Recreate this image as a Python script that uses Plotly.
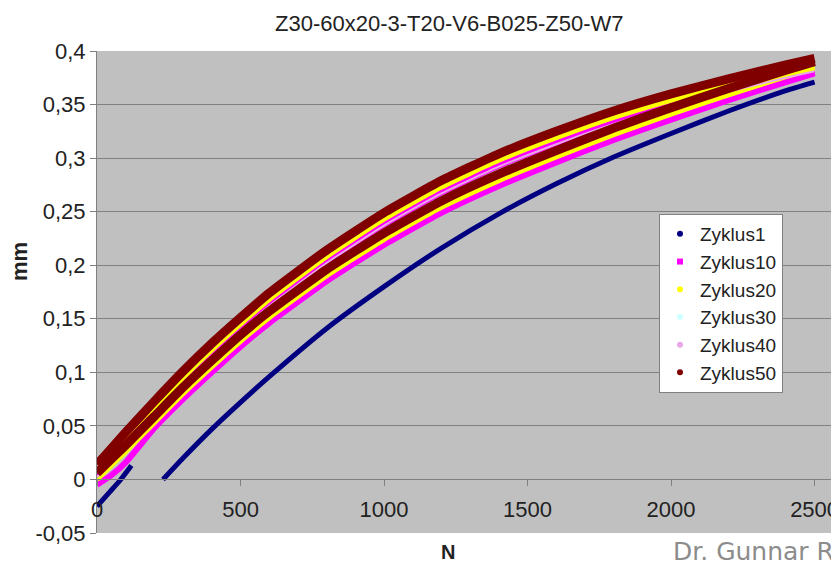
import plotly.graph_objects as go

# ---------------- data ----------------
n_grid = [0, 50, 100, 200, 300, 400, 500, 600, 800, 1000, 1200, 1400, 1600, 1800, 2000, 2200, 2400, 2500]

# Zyklus1: short start piece and main piece
z1_start_n = [0, 40, 80, 120]
z1_start_y = [-0.025, -0.013, -0.001, 0.013]
z1_main_n = [230, 300, 400, 500, 600, 800, 1000, 1200, 1400, 1600, 1800, 2000, 2200, 2400, 2500]
z1_main_y = [0.000, 0.020, 0.047, 0.072, 0.096, 0.141, 0.180, 0.216, 0.248, 0.276, 0.301, 0.323, 0.344, 0.363, 0.371]

# upper group of curves
z50_a = [0.014, 0.029, 0.044, 0.073, 0.101, 0.127, 0.151, 0.174, 0.214, 0.249, 0.279, 0.304, 0.325, 0.344, 0.360, 0.374, 0.387, 0.393]
z20_a = [0.008, 0.023, 0.038, 0.067, 0.095, 0.121, 0.145, 0.168, 0.208, 0.243, 0.273, 0.298, 0.319, 0.338, 0.354, 0.368, 0.381, 0.387]
z10_a = [0.003, 0.018, 0.033, 0.062, 0.090, 0.116, 0.140, 0.163, 0.203, 0.238, 0.268, 0.293, 0.314, 0.333, 0.349, 0.363, 0.376, 0.382]
# lower group of curves
z50_b = [0.006, 0.019, 0.032, 0.059, 0.086, 0.111, 0.135, 0.157, 0.196, 0.230, 0.260, 0.285, 0.307, 0.328, 0.347, 0.365, 0.382, 0.390]
z20_b = [0.000, 0.013, 0.026, 0.053, 0.080, 0.105, 0.129, 0.151, 0.190, 0.224, 0.254, 0.279, 0.301, 0.322, 0.341, 0.359, 0.376, 0.384]
z10_b = [-0.005, 0.004, 0.016, 0.048, 0.075, 0.100, 0.124, 0.146, 0.185, 0.219, 0.249, 0.274, 0.296, 0.317, 0.336, 0.354, 0.371, 0.379]
# mostly hidden curves
z30 = [0.007, 0.020, 0.033, 0.060, 0.087, 0.112, 0.136, 0.158, 0.197, 0.231, 0.261, 0.286, 0.308, 0.329, 0.348, 0.366, 0.383, 0.391]
z40 = [0.002, 0.017, 0.032, 0.061, 0.089, 0.115, 0.139, 0.162, 0.202, 0.237, 0.267, 0.292, 0.313, 0.332, 0.348, 0.362, 0.375, 0.381]

series_names = ["Zyklus1", "Zyklus10", "Zyklus20", "Zyklus30", "Zyklus40", "Zyklus50"]
series_colors = ["#000080", "#ff00ff", "#ffff00", "#ccffff", "#e8a8e8", "#800000"]
legend_symbols = ["circle", "square", "circle", "circle", "circle", "circle"]

y_tick_vals = [-0.05, 0, 0.05, 0.1, 0.15, 0.2, 0.25, 0.3, 0.35, 0.4]
y_tick_text = ["-0,05", "0", "0,05", "0,1", "0,15", "0,2", "0,25", "0,3", "0,35", "0,4"]
x_tick_vals = [0, 500, 1000, 1500, 2000, 2500]

title_text = "Z30-60x20-3-T20-V6-B025-Z50-W7"
x_title = "N"
y_title = "mm"
watermark = "Dr. Gunnar R"

# ---------------- figure ----------------
# the page body has an 8px margin, so the figure is 8px smaller than the window
W, H = 831, 562
ml, mr, mt, mb = 89, 0, 43, 37
PW, PH = W - ml - mr, H - mt - mb
OFF = 8


def px_x(x):  # window px -> paper x
    return (x - OFF - ml) / PW


def px_y(y):  # window px -> paper y
    return (H - mb - (y - OFF)) / PH


fig = go.Figure()


def two_part(n1, y1, n2, y2):
    return list(n1) + [None] + list(n2), list(y1) + [None] + list(y2)


curves = [
    two_part(z1_start_n, z1_start_y, z1_main_n, z1_main_y),
    two_part(n_grid, z10_a, n_grid, z10_b),
    two_part(n_grid, z20_a, n_grid, z20_b),
    (n_grid, z30),
    (n_grid, z40),
    two_part(n_grid, z50_a, n_grid, z50_b),
]
widths = [5, 6, 5, 2, 2, 9]

for (xs, ys), name, col, w in zip(curves, series_names, series_colors, widths):
    fig.add_trace(go.Scatter(
        x=xs, y=ys, mode="lines", name=name, showlegend=False,
        line=dict(color=col, width=w, shape="spline", smoothing=0.5),
        connectgaps=False, hoverinfo="skip",
    ))

for name, col, sym in zip(series_names, series_colors, legend_symbols):
    fig.add_trace(go.Scatter(
        x=[None], y=[None], mode="markers", name=name,
        marker=dict(color=col, size=6, symbol=sym),
    ))

FONT = "Liberation Sans, Arial, sans-serif"
tick_font = dict(family=FONT, size=22, color="#222222")

fig.update_layout(
    width=W, height=H,
    margin=dict(l=ml, r=mr, t=mt, b=mb, pad=0),
    paper_bgcolor="white",
    plot_bgcolor="#c0c0c0",
    showlegend=True,
    legend=dict(
        x=px_x(659), y=px_y(214),
        xanchor="left", yanchor="top",
        bgcolor="white", bordercolor="#808080", borderwidth=1,
        font=dict(family=FONT, size=19, color="#222222"),
        itemwidth=30, tracegroupgap=0,
    ),
    xaxis=dict(
        range=[0, 2585], tickvals=x_tick_vals,
        showgrid=False, zeroline=False,
        showline=True, linecolor="#808080", linewidth=1,
        ticks="outside", ticklen=6, tickcolor="#808080",
        ticklabelstandoff=4, ticklabeloverflow="allow",
        anchor="free", position=(0 - (-0.05)) / 0.45,
        tickfont=tick_font,
    ),
    yaxis=dict(
        range=[-0.05, 0.4], tickvals=y_tick_vals, ticktext=y_tick_text,
        showgrid=True, gridcolor="#808080", gridwidth=1,
        zeroline=False, showline=True, linecolor="#808080", linewidth=1,
        ticks="outside", ticklen=6, tickcolor="#808080",
        tickfont=tick_font,
    ),
    annotations=[
        dict(text=title_text, xref="paper", yref="paper",
             x=px_x(449), y=px_y(9),
             xanchor="center", yanchor="top", showarrow=False,
             font=dict(family=FONT, size=22, color="#222222")),
        dict(text="<b>" + y_title + "</b>", xref="paper", yref="paper",
             x=px_x(19), y=px_y(262),
             xanchor="center", yanchor="middle", showarrow=False, textangle=-90,
             font=dict(family=FONT, size=22, color="#222222")),
        dict(text="<b>" + x_title + "</b>", xref="paper", yref="paper",
             x=px_x(448), y=px_y(552),
             xanchor="center", yanchor="middle", showarrow=False,
             font=dict(family=FONT, size=20, color="#222222")),
        dict(text=watermark, xref="paper", yref="paper",
             x=px_x(671), y=px_y(551),
             xanchor="left", yanchor="middle", showarrow=False,
             font=dict(family="DejaVu Sans, sans-serif", size=25, color="#8c8c8c")),
    ],
)

fig.write_html("out.html")
